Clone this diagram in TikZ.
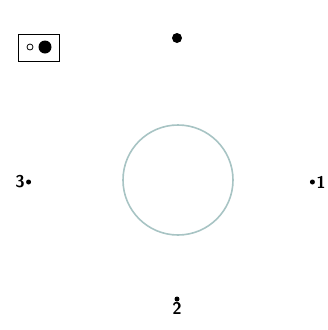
\documentclass[tikz,border=0pt]{standalone}
\usepackage{xcolor}
\usepackage{tikz}
\usetikzlibrary{positioning}
\definecolor{ringc}{HTML}{A8C4C4}
\tikzset{
  dot/.style={circle,fill=black,inner sep=0pt,minimum size=#1},
  dot/.default=10pt,
  pip/.style={circle,fill=black,inner sep=0pt,minimum size=5pt},
  num/.style={font=\sffamily\bfseries\fontsize{17}{19}\selectfont,inner sep=1pt},
}
\begin{document}
\begin{tikzpicture}[x=1pt,y=-1pt]
  \useasboundingbox (0,0) rectangle (328,330);
  \node[circle,draw=ringc,line width=1.6pt,minimum size=110pt,inner sep=0pt] (ring) at (178,180) {};
  % top
  \node[dot] (top) at (177,38) {};
  % holder
  \node[draw,line width=1.3pt,minimum width=41pt,minimum height=27pt,inner sep=0pt] (holder) at (39,48) {};
  \node[circle,draw,line width=0.8pt,minimum size=6pt,inner sep=0pt] (open) at (30,47) {};
  \node[dot=13pt] (full) at (45,47) {};
  % left
  \node[num] (three) at (20,182) {3};
  \node[pip,right=0pt of three] (lp) {};
  % right
  \node[num] (one) at (321,182) {1};
  \node[pip,left=0pt of one] (rp) {};
  % bottom
  \node[pip] (bp) at (177,299) {};
  \node[num,below=-1pt of bp] (two) {2};
\end{tikzpicture}
\end{document}
